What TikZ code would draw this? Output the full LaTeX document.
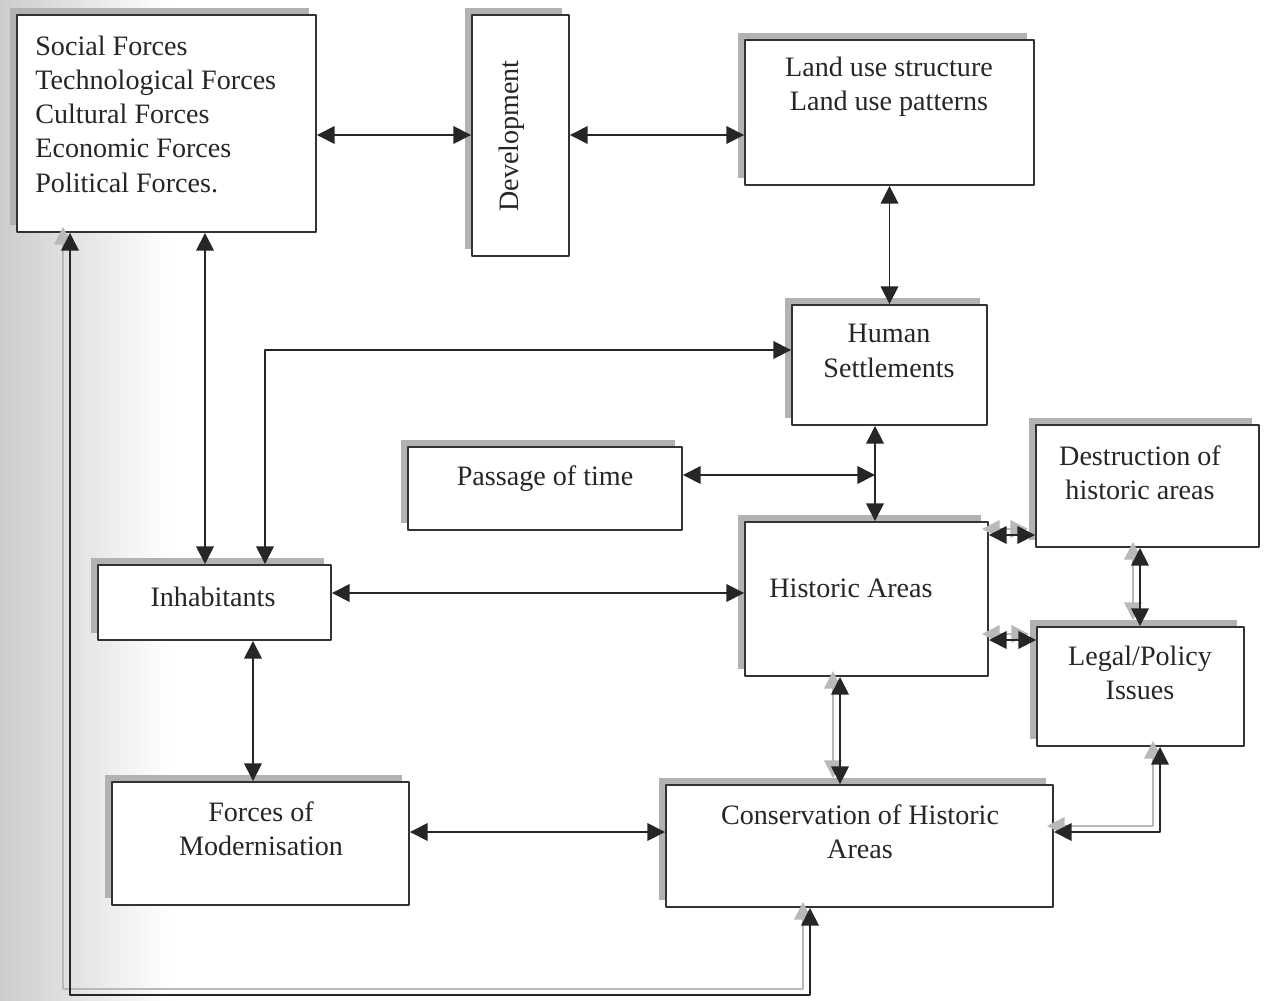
\documentclass[tikz,border=0pt]{standalone}
\usepackage{fontspec}
\setmainfont{Liberation Serif}
\usetikzlibrary{arrows.meta,fit,shadows}
\tikzset{
	box/.style={draw=black!80,line width=1.1pt,fill=white,inner sep=0pt,general shadow={fill=gray!60,shadow xshift=-4pt,shadow yshift=4pt}},
	txt/.style={inner sep=0pt,text=black!85,align=center,font=\fontsize{16}{19.5}\selectfont},
	link/.style={<->,line width=0.9pt,draw=black!85},
	ghost/.style={link,draw=gray!55,transform canvas={shift={(-7,-6)}}}
}
\begin{document}
\begin{tikzpicture}[x=0.02cm,y=-0.02cm,line join=round,>={Triangle[length=10pt,width=10pt]}]
		\useasboundingbox (0,0) rectangle (1266,1000);
		\shade[left color=gray!40,right color=white] (0,0) rectangle (170,1000);
		\node[box,fit={(17,15) (316,232)}] (forces) {};
		\node[box,fit={(472,15) (569,256)}] (dev) {};
		\node[box,fit={(745,40) (1034,185)}] (landuse) {};
		\node[box,fit={(792,305) (987,425)}] (settle) {};
		\node[box,fit={(408,447) (682,530)}] (passage) {};
		\node[box,fit={(1036,425) (1259,547)}] (destr) {};
		\node[box,fit={(745,522) (988,676)}] (historic) {};
		\node[box,fit={(98,565) (331,640)}] (inhab) {};
		\node[box,fit={(1037,627) (1244,746)}] (legal) {};
		\node[box,fit={(112,782) (409,905)}] (modern) {};
		\node[box,fit={(666,785) (1053,907)}] (conserv) {};
		\node[txt,align=left,anchor=west] (forcestxt) at (35,114) {Social Forces\\Technological Forces\\Cultural Forces\\Economic Forces\\Political Forces.};
		\node[txt,rotate=90] (devtxt) at (512,136) {Development};
		\node[txt] (landusetxt) at (889,87) {Land use structure\\Land use patterns};
		\node[txt] (settletxt) at (889,351) {Human\\Settlements};
		\node[txt] (passagetxt) at (545,479) {Passage of time};
		\node[txt] (destrtxt) at (1140,473) {Destruction of\\historic areas};
		\node[txt] (historictxt) at (851,588) {Historic Areas};
		\node[txt] (inhabtxt) at (213,597) {Inhabitants};
		\node[txt] (legaltxt) at (1140,673) {Legal/Policy\\Issues};
		\node[txt] (moderntxt) at (261,829) {Forces of\\Modernisation};
		\node[txt] (conservtxt) at (860,832) {Conservation of Historic\\Areas};
		\coordinate (junc) at (875,475);
		\draw[link] (forces.east |- 0,135)--(dev.west |- 0,135);
		\draw[link] (dev.east |- 0,135)--(landuse.west |- 0,135);
		\draw[link] (landuse.south)--(settle.north);
		\draw[link] (settle.south -| junc)--(historic.north -| junc);
		\draw[link] (passage.east |- junc)--(junc);
		\draw[link] (forces.south -| 205,0)--(inhab.north -| 205,0);
		\draw[link] (inhab.north -| 265,0) |- (settle.west |- 0,350);
		\draw[link] (inhab.east |- 0,593)--(historic.west |- 0,593);
		\draw[link] (inhab.south -| 253,0)--(modern.north -| 253,0);
		\draw[link] (modern.east |- 0,832)--(conserv.west |- 0,832);
		\foreach \lk in {ghost,link}{
			\draw[\lk] (historic.south -| 840,0)--(conserv.north -| 840,0);
			\draw[\lk] (historic.east |- 0,535)--(destr.west |- 0,535);
			\draw[\lk] (historic.east |- 0,640)--(legal.west |- 0,640);
			\draw[\lk] (destr.south -| 1140,0)--(legal.north -| 1140,0);
			\draw[\lk] (legal.south -| 1160,0) |- (conserv.east |- 0,832);
			\draw[\lk] (conserv.south -| 810,0)--(810,995) -| (forces.south -| 70,0);
		}
	\end{tikzpicture}
\end{document}
